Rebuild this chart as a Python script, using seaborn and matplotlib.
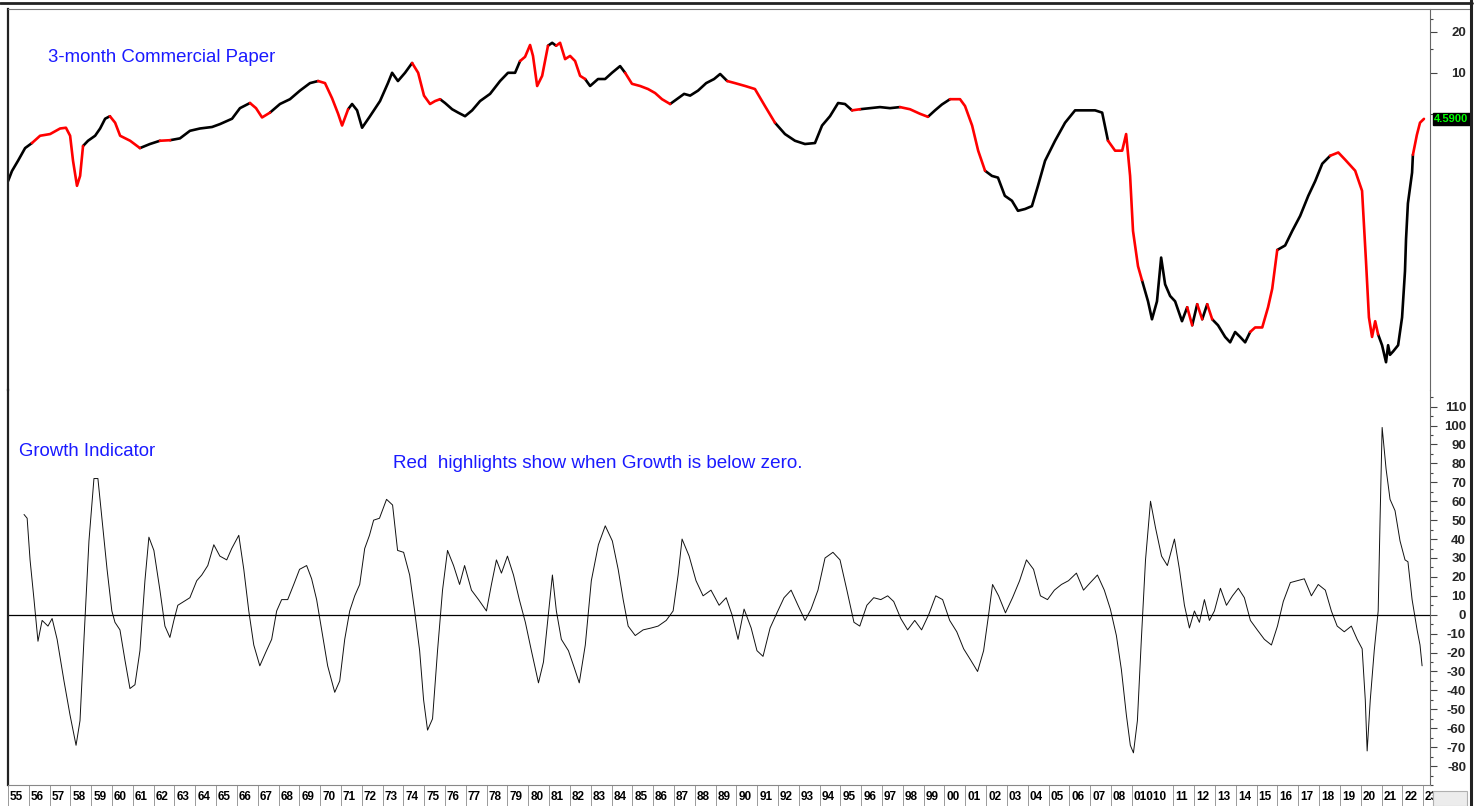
import numpy as np
import pandas as pd
import matplotlib
matplotlib.use("Agg")
import matplotlib.pyplot as plt
from matplotlib.lines import Line2D
from matplotlib.patches import Rectangle
from matplotlib.ticker import FixedLocator, NullFormatter
import seaborn as sns

# 3-month commercial paper rate (%), read at irregular dates
rate_years = [
    1955.10, 1955.29, 1955.58, 1955.92, 1956.25, 1956.64, 1957.12, 1957.60, 1957.88, 1958.08,
    1958.22, 1958.41, 1958.56, 1958.70, 1958.94, 1959.28, 1959.52, 1959.76, 1959.99, 1960.24,
    1960.48, 1960.96, 1961.43, 1961.91, 1962.39, 1962.88, 1963.35, 1963.83, 1964.31, 1964.89,
    1965.27, 1965.85, 1966.23, 1966.71, 1967.00, 1967.29, 1967.67, 1968.15, 1968.63, 1969.11,
    1969.59, 1969.98, 1970.31, 1970.65, 1970.94, 1971.13, 1971.42, 1971.61, 1971.85, 1972.09,
    1972.47, 1972.95, 1973.33, 1973.53, 1973.81, 1974.15, 1974.49, 1974.78, 1975.06, 1975.35,
    1975.59, 1975.83, 1976.07, 1976.41, 1976.70, 1977.03, 1977.37, 1977.75, 1978.23, 1978.71,
    1979.09, 1979.43, 1979.67, 1979.91, 1980.15, 1980.29, 1980.49, 1980.73, 1981.01, 1981.21,
    1981.40, 1981.59, 1981.83, 1982.07, 1982.31, 1982.55, 1982.79, 1983.03, 1983.41, 1983.75,
    1984.08, 1984.47, 1984.71, 1985.04, 1985.43, 1985.81, 1986.15, 1986.48, 1986.87, 1987.25,
    1987.54, 1987.83, 1988.21, 1988.60, 1988.98, 1989.27, 1989.61, 1989.98, 1990.47, 1990.94,
    1991.42, 1991.90, 1992.38, 1992.86, 1993.34, 1993.82, 1994.16, 1994.54, 1994.93, 1995.26,
    1995.60, 1995.98, 1996.46, 1996.94, 1997.42, 1997.90, 1998.38, 1998.86, 1999.24, 1999.58,
    1999.91, 2000.30, 2000.78, 2001.02, 2001.36, 2001.65, 2001.98, 2002.31, 2002.60, 2002.93,
    2003.27, 2003.56, 2003.90, 2004.23, 2004.52, 2004.86, 2005.34, 2005.82, 2006.30, 2006.78,
    2007.26, 2007.60, 2007.88, 2008.22, 2008.56, 2008.75, 2008.94, 2009.08, 2009.32, 2009.51,
    2009.80, 2009.99, 2010.23, 2010.43, 2010.62, 2010.86, 2011.10, 2011.43, 2011.68, 2011.92,
    2012.16, 2012.40, 2012.64, 2012.88, 2013.16, 2013.50, 2013.74, 2013.98, 2014.22, 2014.46,
    2014.70, 2014.94, 2015.28, 2015.56, 2015.76, 2016.00, 2016.38, 2016.72, 2017.10, 2017.49,
    2017.82, 2018.16, 2018.54, 2018.93, 2019.26, 2019.74, 2020.07, 2020.26, 2020.40, 2020.55,
    2020.70, 2020.84, 2021.03, 2021.22, 2021.32, 2021.41, 2021.56, 2021.80, 2021.99, 2022.13,
    2022.18, 2022.27, 2022.47, 2022.51, 2022.70, 2022.85, 2023.04,
]
rate_values = [
    1.60, 1.90, 2.26, 2.80, 3.05, 3.45, 3.55, 3.90, 3.95, 3.45,
    2.26, 1.48, 1.75, 2.90, 3.17, 3.45, 3.90, 4.60, 4.80, 4.30,
    3.45, 3.17, 2.80, 3.00, 3.17, 3.20, 3.30, 3.75, 3.90, 4.00,
    4.20, 4.60, 5.50, 6.00, 5.50, 4.70, 5.10, 5.90, 6.40, 7.40,
    8.40, 8.70, 8.40, 6.50, 5.00, 4.10, 5.40, 5.90, 5.30, 3.95,
    4.80, 6.20, 8.40, 10.0, 8.70, 10.0, 11.8, 10.0, 6.80, 5.90,
    6.20, 6.40, 6.00, 5.40, 5.10, 4.80, 5.30, 6.20, 7.00, 8.70,
    10.0, 10.0, 12.2, 13.1, 16.0, 13.3, 8.00, 9.50, 15.8, 16.6,
    15.8, 16.6, 12.6, 13.3, 12.2, 9.50, 9.00, 8.00, 9.00, 9.00,
    10.0, 11.2, 10.0, 8.30, 8.00, 7.60, 7.10, 6.40, 5.90, 6.50,
    7.00, 6.80, 7.40, 8.40, 9.00, 9.80, 8.70, 8.40, 8.00, 7.60,
    5.70, 4.30, 3.55, 3.17, 3.00, 3.05, 4.10, 4.80, 6.00, 5.90,
    5.30, 5.40, 5.50, 5.60, 5.50, 5.60, 5.40, 5.00, 4.75, 5.30,
    5.85, 6.40, 6.40, 5.70, 4.10, 2.68, 1.91, 1.75, 1.70, 1.25,
    1.15, 0.97, 1.00, 1.05, 1.48, 2.26, 3.17, 4.30, 5.30, 5.30,
    5.30, 5.10, 3.17, 2.68, 2.68, 3.55, 1.75, 0.69, 0.38, 0.30,
    0.21, 0.155, 0.21, 0.44, 0.28, 0.23, 0.21, 0.15, 0.19, 0.14,
    0.20, 0.155, 0.20, 0.155, 0.14, 0.115, 0.105, 0.125, 0.115, 0.105,
    0.125, 0.135, 0.135, 0.19, 0.26, 0.50, 0.54, 0.69, 0.89, 1.25,
    1.60, 2.15, 2.46, 2.60, 2.30, 1.91, 1.36, 0.41, 0.16, 0.115,
    0.15, 0.12, 0.10, 0.075, 0.10, 0.085, 0.09, 0.10, 0.16, 0.35,
    0.60, 1.10, 1.85, 2.50, 3.50, 4.30, 4.59,
]

# Growth indicator, read at irregular dates
growth_years = [
    1955.77, 1955.92, 1956.06, 1956.25, 1956.44, 1956.64, 1956.92, 1957.12, 1957.36, 1957.69,
    1957.98, 1958.27, 1958.46, 1958.65, 1958.89, 1959.13, 1959.32, 1959.52, 1959.76, 1959.99,
    1960.14, 1960.38, 1960.62, 1960.86, 1961.10, 1961.34, 1961.58, 1961.77, 1962.01, 1962.30,
    1962.54, 1962.78, 1962.97, 1963.16, 1963.45, 1963.74, 1964.07, 1964.31, 1964.60, 1964.89,
    1965.18, 1965.51, 1965.75, 1966.09, 1966.33, 1966.57, 1966.81, 1967.10, 1967.38, 1967.67,
    1967.91, 1968.15, 1968.44, 1968.73, 1969.01, 1969.35, 1969.59, 1969.83, 1970.07, 1970.36,
    1970.70, 1970.94, 1971.18, 1971.42, 1971.66, 1971.90, 1972.14, 1972.37, 1972.57, 1972.85,
    1973.19, 1973.48, 1973.72, 1974.01, 1974.30, 1974.54, 1974.78, 1974.97, 1975.16, 1975.40,
    1975.64, 1975.88, 1976.12, 1976.41, 1976.70, 1976.94, 1977.27, 1977.61, 1977.99, 1978.23,
    1978.47, 1978.71, 1979.00, 1979.29, 1979.57, 1979.86, 1980.15, 1980.49, 1980.73, 1981.01,
    1981.16, 1981.35, 1981.59, 1981.93, 1982.21, 1982.45, 1982.74, 1983.03, 1983.37, 1983.70,
    1984.04, 1984.32, 1984.56, 1984.80, 1985.14, 1985.52, 1985.91, 1986.24, 1986.63, 1986.96,
    1987.20, 1987.39, 1987.73, 1988.06, 1988.40, 1988.78, 1989.17, 1989.51, 1989.79, 1990.08,
    1990.37, 1990.71, 1990.99, 1991.28, 1991.62, 1991.95, 1992.29, 1992.63, 1992.96, 1993.30,
    1993.59, 1993.92, 1994.26, 1994.64, 1994.98, 1995.31, 1995.65, 1995.93, 1996.27, 1996.60,
    1996.94, 1997.27, 1997.56, 1997.90, 1998.23, 1998.57, 1998.90, 1999.24, 1999.58, 1999.91,
    2000.25, 2000.59, 2000.92, 2001.26, 2001.59, 2001.88, 2002.12, 2002.31, 2002.60, 2002.93,
    2003.27, 2003.61, 2003.94, 2004.28, 2004.61, 2004.95, 2005.28, 2005.62, 2005.96, 2006.34,
    2006.68, 2007.01, 2007.35, 2007.68, 2007.97, 2008.26, 2008.50, 2008.74, 2008.93, 2009.08,
    2009.27, 2009.46, 2009.66, 2009.90, 2010.14, 2010.43, 2010.71, 2011.05, 2011.29, 2011.53,
    2011.77, 2012.01, 2012.25, 2012.49, 2012.73, 2012.97, 2013.26, 2013.55, 2013.84, 2014.12,
    2014.41, 2014.70, 2015.03, 2015.37, 2015.71, 2016.00, 2016.28, 2016.62, 2016.96, 2017.29,
    2017.63, 2017.96, 2018.30, 2018.59, 2018.87, 2019.21, 2019.55, 2019.83, 2020.07, 2020.22,
    2020.31, 2020.46, 2020.65, 2020.84, 2020.93, 2021.03, 2021.22, 2021.41, 2021.65, 2021.89,
    2022.13, 2022.27, 2022.47, 2022.71, 2022.85, 2022.95,
]
growth_values = [
    53, 51, 29, 8, -14, -3, -6, -2, -13, -35,
    -53, -69, -56, -13, 39, 72, 72, 50, 24, 2,
    -4, -8, -24, -39, -37, -19, 18, 41, 34, 13,
    -6, -12, -3, 5, 7, 9, 18, 21, 26, 37,
    31, 29, 35, 42, 24, 2, -16, -27, -20, -13,
    2, 8, 8, 16, 24, 26, 19, 8, -8, -27,
    -41, -35, -13, 2, 10, 16, 35, 42, 50, 51,
    61, 58, 34, 33, 21, 2, -19, -45, -61, -55,
    -19, 13, 34, 26, 16, 26, 13, 8, 2, 16,
    29, 22, 31, 21, 8, -4, -19, -36, -25, 5,
    21, 2, -13, -19, -28, -36, -16, 18, 37, 47,
    39, 24, 8, -6, -11, -8, -7, -6, -3, 2,
    21, 40, 31, 18, 10, 13, 5, 9, 0, -13,
    3, -7, -19, -22, -7, 1, 9, 13, 5, -3,
    3, 13, 30, 33, 29, 13, -4, -6, 5, 9,
    8, 10, 7, -2, -8, -3, -8, 0, 10, 8,
    -3, -9, -18, -24, -30, -19, 0, 16, 10, 1,
    9, 18, 29, 24, 10, 8, 13, 16, 18, 22,
    13, 17, 21, 13, 3, -11, -29, -53, -69, -73,
    -56, -13, 29, 60, 46, 31, 26, 40, 24, 5,
    -7, 2, -4, 8, -3, 2, 14, 5, 10, 14,
    9, -3, -8, -13, -16, -6, 7, 17, 18, 19,
    10, 16, 13, 2, -6, -9, -6, -13, -18, -45,
    -72, -45, -19, 2, 50, 99, 77, 61, 55, 39,
    29, 28, 8, -8, -16, -27,
]

# Year separators along the time axis and their labels
x_tick_years = [y for y in range(1955, 2024) if y != 2010]
x_tick_labels = [f"{y % 100:02d}" for y in range(1955, 2009)] + ["01010"] + \
                [f"{y % 100:02d}" for y in range(2011, 2024)]

rate_major_ticks = [10, 20]
rate_minor_ticks = [5, 15, 25]
growth_major_ticks = list(range(-80, 111, 10))
growth_minor_ticks = list(range(-90, 120, 5))

sns.set_style("white")
plt.rcParams["font.family"] = ["Liberation Sans", "DejaVu Sans"]

W, H = 1480, 806
fig = plt.figure(figsize=(W / 100, H / 100), dpi=100, facecolor="white")


def px_axes(left, top, right, bottom):
    return fig.add_axes([left / W, 1 - bottom / H, (right - left) / W, (bottom - top) / H])


ax1 = px_axes(8, 9, 1430, 390)
ax2 = px_axes(8, 390, 1430, 785)

XMIN, XMAX = 1955.10, 2023.33

# ---- upper panel: rate, red where the growth indicator is below zero ----
yrs = np.asarray(rate_years)
vals = np.asarray(rate_values)
mids = (yrs[:-1] + yrs[1:]) / 2
below = np.interp(mids, growth_years, growth_values) < 0

runs = []
start = 0
for i in range(1, len(below) + 1):
    if i == len(below) or below[i] != below[start]:
        runs.append((start, i, below[start]))
        start = i

rows = []
for k, (s, e, neg) in enumerate(runs):
    for j in range(s, e + 1):
        rows.append({"year": yrs[j], "rate": vals[j], "run": k,
                     "phase": "below" if neg else "above"})
rate_df = pd.DataFrame(rows)

ax1.set_yscale("log")
sns.lineplot(data=rate_df, x="year", y="rate", hue="phase", units="run",
             estimator=None, sort=False, palette={"above": "black", "below": "#ff0000"},
             linewidth=1.9, legend=False, ax=ax1)
ax1.set_xlim(XMIN, XMAX)
ax1.set_ylim(0.0469, 29.4)
ax1.set_xlabel("")
ax1.set_ylabel("")

ax1.yaxis.tick_right()
ax1.set_yticks(rate_major_ticks)
ax1.set_yticklabels([str(t) for t in rate_major_ticks])
ax1.yaxis.set_minor_locator(FixedLocator(rate_minor_ticks))
ax1.yaxis.set_minor_formatter(NullFormatter())
ax1.tick_params(axis="x", which="both", bottom=False, top=False, labelbottom=False)
ax1.tick_params(axis="y", which="major", right=True, left=False, direction="out",
                length=5, width=0.8, color="#444", pad=21, labelsize=9.5)
ax1.tick_params(axis="y", which="minor", right=True, left=False, direction="out",
                length=2.5, width=0.8, color="#444")
for t in ax1.get_yticklabels():
    t.set_fontweight("bold")
    t.set_horizontalalignment("right")

last = rate_values[-1]
ax1.annotate(f"{last:.4f}", xy=(1.0, last), xycoords=("axes fraction", "data"),
             xytext=(3, 0), textcoords="offset points", ha="left", va="center",
             color="#00ff00", fontsize=8, fontweight="bold", annotation_clip=False,
             bbox=dict(boxstyle="square,pad=0.12", fc="black", ec="black"))

# ---- lower panel: growth indicator ----
sns.lineplot(x=growth_years, y=growth_values, color="#111111", linewidth=0.7,
             estimator=None, sort=False, ax=ax2)
ax2.axhline(0, color="black", linewidth=0.9)
ax2.set_xlim(XMIN, XMAX)
ax2.set_ylim(-90, 118.8)
ax2.set_xlabel("")
ax2.set_ylabel("")

ax2.yaxis.tick_right()
ax2.set_yticks(growth_major_ticks)
ax2.set_yticklabels([str(t) for t in growth_major_ticks])
ax2.yaxis.set_minor_locator(FixedLocator(growth_minor_ticks))
ax2.tick_params(axis="y", which="major", right=True, left=False, direction="out",
                length=5, width=0.8, color="#444", pad=21, labelsize=9.5)
ax2.tick_params(axis="y", which="minor", right=True, left=False, direction="out",
                length=2.5, width=0.8, color="#444")
for t in ax2.get_yticklabels():
    t.set_fontweight("bold")
    t.set_horizontalalignment("right")

ax2.set_xticks(x_tick_years)
ax2.tick_params(axis="x", which="major", bottom=True, direction="out", length=16,
                width=0.7, color="#999999", labelbottom=False)
for yr, lab in zip(x_tick_years, x_tick_labels):
    ax2.annotate(lab, xy=(yr, 0), xycoords=("data", "axes fraction"),
                 xytext=(1.4, -8.6), textcoords="offset points", ha="left", va="center",
                 fontsize=8.5, fontweight="bold", color="black", annotation_clip=False)

# ---- frames ----
for ax in (ax1, ax2):
    ax.spines["left"].set_linewidth(1.6)
    ax.spines["left"].set_color("#222222")
    ax.spines["right"].set_linewidth(0.8)
    ax.spines["right"].set_color("#666666")
    ax.spines["top"].set_visible(False)
    ax.patch.set_alpha(0)
ax1.spines["bottom"].set_visible(False)
ax2.spines["bottom"].set_linewidth(0.8)
ax2.spines["bottom"].set_color("#888888")

fig.add_artist(Line2D([0, 1472 / W], [1 - 3 / H] * 2, color="#222222", linewidth=2.0))
fig.add_artist(Line2D([8 / W, 1470 / W], [1 - 9 / H] * 2, color="#777777", linewidth=0.8))
fig.add_artist(Line2D([1471 / W] * 2, [0, 1], color="#222222", linewidth=2.2))
fig.add_artist(Rectangle((1433 / W, 0), 34 / W, 15 / H, transform=fig.transFigure,
                         facecolor="#ececec", edgecolor="#b0b0b0", linewidth=0.8))

# ---- captions ----
blue = "#1a1aff"
fig.text(48 / W, 1 - 57 / H, "3-month Commercial Paper", color=blue, fontsize=13.4,
         ha="left", va="center")
fig.text(19 / W, 1 - 452 / H, "Growth Indicator", color=blue, fontsize=13.4,
         ha="left", va="center")
fig.text(393 / W, 1 - 463 / H, "Red  highlights show when Growth is below zero.",
         color=blue, fontsize=13.6, ha="left", va="center")

fig.savefig("out.png", dpi=100, facecolor="white")
